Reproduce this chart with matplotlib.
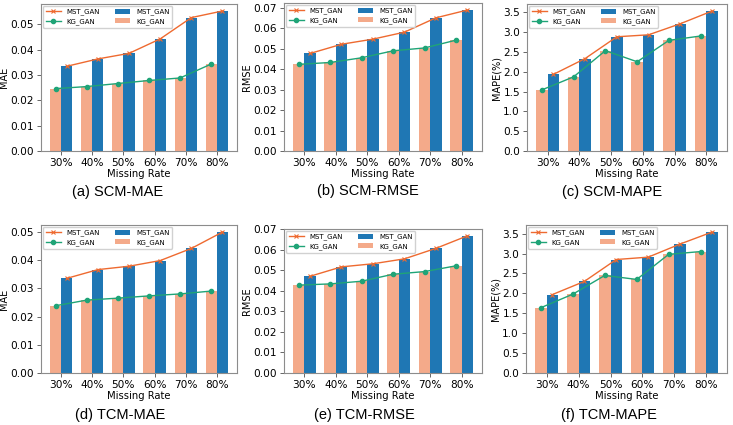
import matplotlib.pyplot as plt
import numpy as np
from matplotlib.ticker import MultipleLocator

rates = ["30%", "40%", "50%", "60%", "70%", "80%"]

scm_mae_kg = [0.0246, 0.0254, 0.0266, 0.0278, 0.0288, 0.0343]
scm_mae_mst = [0.0334, 0.0363, 0.0385, 0.0442, 0.0526, 0.0552]
scm_rmse_kg = [0.0423, 0.0432, 0.0455, 0.0489, 0.0503, 0.0541]
scm_rmse_mst = [0.0476, 0.0521, 0.0546, 0.0580, 0.0650, 0.0688]
scm_mape_kg = [1.54, 1.87, 2.53, 2.25, 2.79, 2.90]
scm_mape_mst = [1.93, 2.33, 2.88, 2.93, 3.21, 3.53]
tcm_mae_kg = [0.0238, 0.0258, 0.0265, 0.0273, 0.0280, 0.0290]
tcm_mae_mst = [0.0335, 0.0366, 0.0378, 0.0398, 0.0441, 0.0499]
tcm_rmse_kg = [0.0428, 0.0434, 0.0447, 0.0481, 0.0494, 0.0522]
tcm_rmse_mst = [0.0471, 0.0517, 0.0532, 0.0556, 0.0607, 0.0668]
tcm_mape_kg = [1.64, 1.98, 2.45, 2.35, 2.98, 3.05]
tcm_mape_mst = [1.97, 2.30, 2.85, 2.91, 3.24, 3.54]

panels = [
    ("MAE", "(a) SCM-MAE", scm_mae_kg, scm_mae_mst),
    ("RMSE", "(b) SCM-RMSE", scm_rmse_kg, scm_rmse_mst),
    ("MAPE(%)", "(c) SCM-MAPE", scm_mape_kg, scm_mape_mst),
    ("MAE", "(d) TCM-MAE", tcm_mae_kg, tcm_mae_mst),
    ("RMSE", "(e) TCM-RMSE", tcm_rmse_kg, tcm_rmse_mst),
    ("MAPE(%)", "(f) TCM-MAPE", tcm_mape_kg, tcm_mape_mst),
]

# axes boxes in pixels: left, top, right, bottom; caption centre x, y
W, H = 733, 425
boxes = [
    (41, 4, 237, 151, 118, 192),
    (284, 3, 482, 151, 368, 191),
    (527, 4, 727, 151, 612, 192),
    (41, 225, 237, 373, 120, 415),
    (284, 229, 482, 373, 364, 415),
    (526, 225, 727, 373, 609, 415),
]

BLUE = "#1f77b4"
SALMON = "#f4aa8a"
ORANGE = "#ee6a30"
GREEN = "#1fa477"

fig = plt.figure(figsize=(W / 100, H / 100), dpi=100)

for (ylab, cap, kg, mst), (l, t, r, b, cx, cy) in zip(panels, boxes):
    ax = fig.add_axes([l / W, 1 - b / H, (r - l) / W, (b - t) / H])
    x = np.arange(len(rates))
    w = 0.36
    ax.bar(x - w / 2, kg, w, color=SALMON, label="KG_GAN", zorder=2)
    ax.bar(x + w / 2, mst, w, color=BLUE, label="MST_GAN", zorder=2)
    ax.plot(x + w / 2, mst, color=ORANGE, marker="x", ms=3, lw=1,
            mew=0.8, label="MST_GAN", zorder=3)
    ax.plot(x - w / 2, kg, color=GREEN, marker="o", ms=3, lw=1,
            label="KG_GAN", zorder=3)
    ax.set_xticks(x)
    ax.set_xticklabels(rates)
    if ylab.startswith("MAPE"):
        ax.yaxis.set_major_locator(MultipleLocator(0.5))
    else:
        ax.yaxis.set_major_locator(MultipleLocator(0.01))
    ax.set_xlabel("Missing Rate", fontsize=7.2, labelpad=1)
    ax.set_ylabel(ylab, fontsize=7, labelpad=1)
    ax.tick_params(labelsize=7.6, length=3, width=0.6, color="0.3", pad=2)
    for s in ax.spines.values():
        s.set_color("0.55")
        s.set_linewidth(0.8)
    h, lb = ax.get_legend_handles_labels()
    order = [0, 1, 3, 2]
    ax.legend([h[i] for i in order], [lb[i] for i in order], ncol=2,
              loc="upper left", fontsize=5, frameon=True, framealpha=0.9,
              edgecolor="0.8", handlelength=2.2, columnspacing=2.2,
              borderpad=0.4, labelspacing=0.4, borderaxespad=0.25)
    fig.text(cx / W, 1 - cy / H, cap, ha="center", va="center",
             fontsize=10.5, family="Liberation Sans")

fig.savefig("out.png", dpi=100)
